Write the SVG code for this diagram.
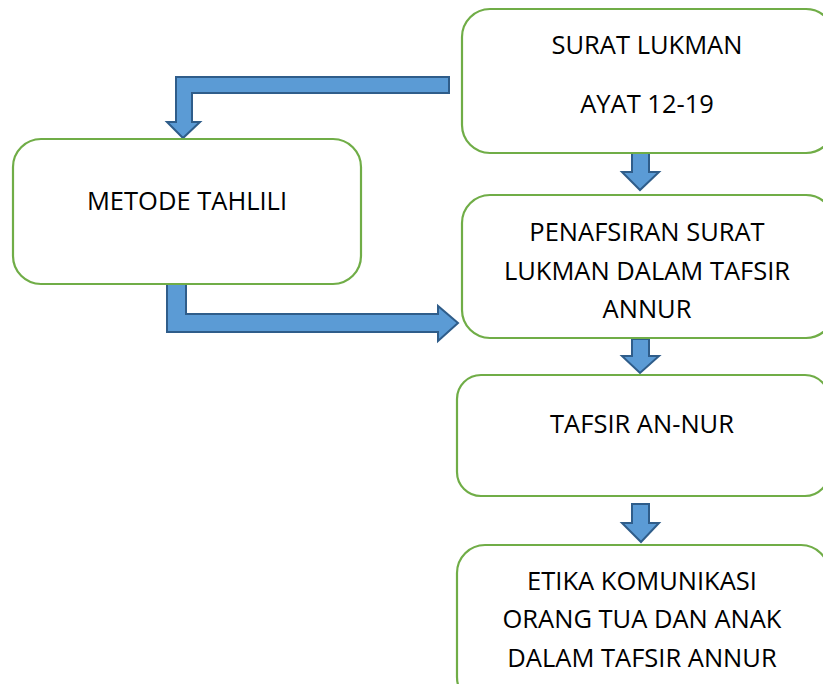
<svg xmlns="http://www.w3.org/2000/svg" width="823" height="684" viewBox="0 0 823 684">
<style>
.box{fill:#fff;stroke:#70AD47;stroke-width:2.2}
.arr{fill:#5B9BD5;stroke:#2F5D8A;stroke-width:2;stroke-linejoin:miter}
text{font-family:"Open Sans","Liberation Sans",sans-serif;font-size:25.5px;fill:#000;text-anchor:middle}
</style>
<rect width="823" height="684" fill="#fff"/>
<g id="connectors">
<path class="arr" d="M449,77 L176,77 L176,122 L167,122 L183,138 L200,122 L192,122 L192,93 L449,93 Z"/>
<path class="arr" d="M167,277 L186,277 L186,314 L438,314 L438,306 L458,323 L438,341 L438,332 L167,332 Z"/>
<path class="arr" d="M632,153 L649,153 L649,172 L659,172 L640,190 L622,172 L632,172 Z"/>
<path class="arr" d="M632,339 L649,339 L649,356 L659,356 L640,373 L622,356 L632,356 Z"/>
<path class="arr" d="M632,504 L649,504 L649,523 L659,523 L641,542 L622,523 L632,523 Z"/>
</g>
<g id="surat">
<rect class="box" x="462" y="9" width="372" height="144" rx="28"/>
<text x="647" y="54">SURAT LUKMAN</text>
<text x="647" y="113">AYAT 12-19</text>
</g>
<g id="metode">
<rect class="box" x="13" y="139" width="348" height="145" rx="28"/>
<text x="187" y="210">METODE TAHLILI</text>
</g>
<g id="penafsiran">
<rect class="box" x="462" y="195" width="372" height="143" rx="28"/>
<text x="647" y="241">PENAFSIRAN SURAT</text>
<text x="647" y="280">LUKMAN DALAM TAFSIR</text>
<text x="647" y="318">ANNUR</text>
</g>
<g id="tafsir">
<rect class="box" x="457" y="375" width="372" height="121" rx="24"/>
<text x="642" y="433">TAFSIR AN-NUR</text>
</g>
<g id="etika">
<rect class="box" x="457" y="545" width="372" height="160" rx="28"/>
<text x="642" y="590">ETIKA KOMUNIKASI</text>
<text x="642" y="628">ORANG TUA DAN ANAK</text>
<text x="642" y="667">DALAM TAFSIR ANNUR</text>
</g>
</svg>
